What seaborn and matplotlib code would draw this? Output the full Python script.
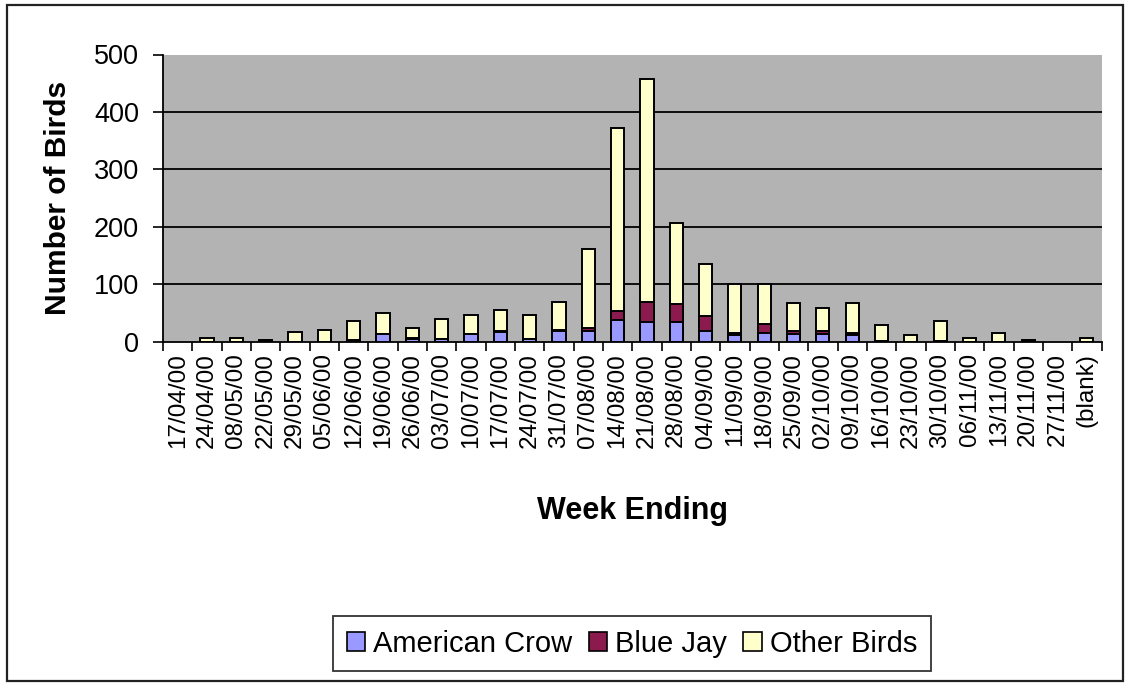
import numpy as np
import pandas as pd
import matplotlib
matplotlib.use("Agg")
import matplotlib.pyplot as plt
from matplotlib.patches import Rectangle, Patch
import seaborn as sns

weeks = ["17/04/00", "24/04/00", "08/05/00", "22/05/00", "29/05/00", "05/06/00",
         "12/06/00", "19/06/00", "26/06/00", "03/07/00", "10/07/00", "17/07/00",
         "24/07/00", "31/07/00", "07/08/00", "14/08/00", "21/08/00", "28/08/00",
         "04/09/00", "11/09/00", "18/09/00", "25/09/00", "02/10/00", "09/10/00",
         "16/10/00", "23/10/00", "30/10/00", "06/11/00", "13/11/00", "20/11/00",
         "27/11/00", "(blank)"]

american_crow = [0, 0, 0, 0, 0, 0, 2, 13, 5, 4, 13, 17, 4, 18, 18, 38, 35, 35,
                 18, 12, 16, 13, 13, 12, 1, 0, 1, 0, 0, 1, 0, 0]
blue_jay = [0, 0, 0, 1, 0, 0, 1, 1, 1, 1, 1, 1, 1, 2, 5, 15, 34, 31,
            27, 4, 14, 6, 5, 4, 1, 0, 1, 0, 0, 1, 0, 0]
other_birds = [0, 6, 6, 2, 17, 20, 33, 36, 17, 34, 32, 38, 41, 49, 138, 319, 389, 141,
               90, 84, 71, 49, 40, 52, 27, 12, 34, 6, 16, 1, 0, 6]

series_names = ["American Crow", "Blue Jay", "Other Birds"]
series_colors = ["#9999FF", "#8B1A4F", "#FFFFCC"]

df = pd.DataFrame({"week": weeks,
                   "crow": american_crow,
                   "jay": blue_jay,
                   "other": other_birds})
df["top_jay"] = df["crow"] + df["jay"]
df["top_other"] = df["top_jay"] + df["other"]

plt.rcParams["font.family"] = ["Liberation Sans", "DejaVu Sans"]

W, H = 1127, 686
fig = plt.figure(figsize=(W / 100, H / 100), dpi=100)
fig.patch.set_facecolor("white")

# chart border
fig.add_artist(Rectangle((7 / W, 5 / H), (1123 - 7) / W, (681 - 5) / H,
                         transform=fig.transFigure, fill=False,
                         edgecolor="#222222", linewidth=1.6))

left, right, top, bottom = 163, 1101.5, 54.5, 341.7
ax = fig.add_axes([left / W, 1 - bottom / H, (right - left) / W, (bottom - top) / H])
ax.set_facecolor("#B3B3B3")

# stacked segments: draw cumulative totals back to front
bar_kw = dict(width=0.45, edgecolor="black", linewidth=1.4, ax=ax, order=weeks)
sns.barplot(data=df, x="week", y="top_other", color=series_colors[2],
            saturation=1, zorder=3, **bar_kw)
sns.barplot(data=df, x="week", y="top_jay", color=series_colors[1],
            saturation=1, zorder=4, **bar_kw)
sns.barplot(data=df, x="week", y="crow", color=series_colors[0],
            saturation=1, zorder=5, **bar_kw)

# hide outlines of empty segments
for p in ax.patches:
    if p.get_height() <= 0:
        p.set_visible(False)

n = len(weeks)
ax.set_xlim(-0.5, n - 0.5)
ax.set_ylim(0, 500)
ax.set_yticks(np.arange(0, 501, 100))
for yv in range(100, 500, 100):
    ax.axhline(yv, color="black", linewidth=1.3, zorder=1)

ax.set_xticks(np.arange(n))
ax.set_xticklabels(weeks, rotation=90, fontsize=17.5, va="top")
ax.set_xticks(np.arange(n + 1) - 0.5, minor=True)
ax.tick_params(axis="x", which="major", length=0, pad=8)
ax.tick_params(axis="x", which="minor", length=6.5, width=1.2, color="black")
ax.tick_params(axis="y", which="major", length=7.2, width=1.2, color="black",
               labelsize=19.5, pad=10)

for s in ["top", "right"]:
    ax.spines[s].set_visible(False)
for s in ["left", "bottom"]:
    ax.spines[s].set_color("black")
    ax.spines[s].set_linewidth(1.3)
    ax.spines[s].set_zorder(6)

ax.set_xlabel("Week Ending", fontsize=22, fontweight="bold")
ax.xaxis.set_label_coords(0.5, (bottom - 511) / (bottom - top))
ax.xaxis.label.set_va("center")
ax.set_ylabel("Number of Birds", fontsize=21.5, fontweight="bold")
ax.yaxis.set_label_coords((58.5 - left) / (right - left), 0.5)
ax.yaxis.label.set_va("center")

handles = [Patch(facecolor=c, edgecolor="black", linewidth=1.2) for c in series_colors]
leg = fig.legend(handles, series_names, loc="center", bbox_to_anchor=(632 / W, 1 - 643.5 / H),
                 ncol=3, fontsize=21, frameon=True, fancybox=False,
                 handlelength=0.65, handleheight=0.62, handletextpad=0.27,
                 columnspacing=0.55, borderpad=0.45, borderaxespad=0)
leg.get_frame().set_edgecolor("black")
leg.get_frame().set_linewidth(1.3)

fig.savefig("out.png", dpi=100)
